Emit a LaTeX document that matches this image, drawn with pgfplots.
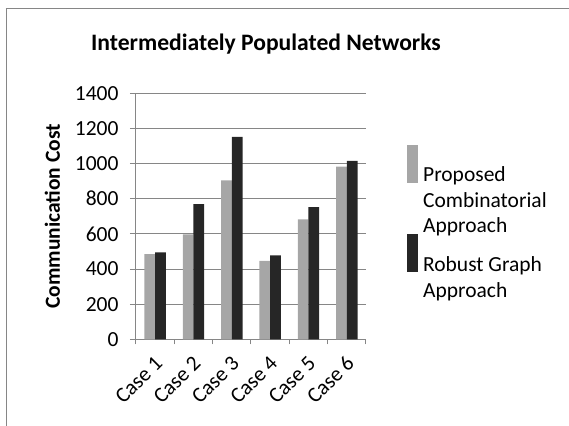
\documentclass[border=0pt]{standalone}
\usepackage{fontspec}
\setmainfont{Carlito}
\usepackage{pgfplots}
\pgfplotsset{compat=1.18}

\definecolor{propgray}{HTML}{A6A6A6}
\definecolor{robustdark}{HTML}{262626}
\definecolor{gridgray}{HTML}{868686}

\pgfplotstableread{
idx proposed robust
0   485  495
1   597  770
2   905  1152
3   447  477
4   682  752
5   982  1015
}\costdata

\newcommand{\bodyfont}{\fontsize{21.5bp}{26bp}\selectfont}
% legend line strut: 26bp from one baseline to the next
\newcommand{\lline}{\rule{0pt}{24bp}}

\begin{document}
\begin{tikzpicture}
% chart frame (the axis box has its lower left corner at the origin)
\draw[gridgray, line width=1.2bp] (-129.5bp,-90bp) -- (-129.5bp,330.8bp);
\draw[gridgray, line width=1.2bp] (-130.1bp,330.8bp) -- (440bp,330.8bp);
\begin{axis}[
  at={(0,0)}, anchor=south west,
  scale only axis, width=230bp, height=246bp,
  ymin=0, ymax=1400, ytick={0,200,...,1400},
  xmin=-0.5, xmax=5.5,
  xtick={0,...,5},
  xticklabels={Case 1,Case 2,Case 3,Case 4,Case 5,Case 6},
  minor xtick={-0.5,0.5,...,5.5},
  axis x line*=bottom, axis y line*=left,
  axis line style={gridgray, line width=1bp},
  every outer x axis line/.append style={-},
  every outer y axis line/.append style={-},
  ymajorgrids, grid style={gridgray, line width=1bp},
  major tick style={gridgray, line width=1bp},
  minor tick style={gridgray, line width=1bp},
  tick align=outside,
  major tick length=6bp, minor tick length=5bp,
  xtick style={/pgfplots/major tick length=0pt},
  /pgf/number format/assume math mode=true,
  /pgf/number format/1000 sep={},
  tick label style={font=\bodyfont},
  every tick label/.append style={font=\bodyfont},
  yticklabel style={font=\bodyfont, xshift=-8bp},
  xticklabel style={font=\bodyfont, xshift=6bp, yshift=-12bp, rotate=45, anchor=east},
  ylabel={Communication Cost},
  ylabel style={font=\bodyfont\bfseries, yshift=8bp},
  ybar=0pt, bar width=10.7bp,
  legend style={draw=none, fill=none, at={(1.178,0.792)}, anchor=north west,
    inner sep=0pt, row sep=0pt, font=\bodyfont,
    nodes={inner sep=0pt}},
  legend cell align=left,
  % the empty box sets the cell size; the square is drawn lower inside it
  legend image code/.code={\path (0bp,-1bp) rectangle (11bp,26bp);
    \fill[#1, overlay] (0bp,-12bp) rectangle (11bp,0bp);},
]
\addplot[fill=propgray, draw=none] table[x=idx, y=proposed] {\costdata};
\addlegendentry{\lline\hspace{5bp}Proposed}
\addlegendimage{empty legend}
\addlegendentry{\lline\hspace{5bp}Combinatorial}
\addlegendimage{empty legend}
\addlegendentry{\lline\hspace{5bp}Approach}
\addplot[fill=robustdark, draw=none] table[x=idx, y=robust] {\costdata};
\addlegendentry{\lline\hspace{5bp}Robust Graph}
\addlegendimage{empty legend}
\addlegendentry{\lline\hspace{5bp}Approach}
\end{axis}
% chart title
\node[anchor=base, font=\fontsize{23.6bp}{28bp}\selectfont\bfseries] at (130bp,288.3bp)
  {Intermediately Populated Networks};
% page extent: the axis box sits 136bp from the left and 86.7bp above the bottom
\pgfresetboundingbox
\path[use as bounding box] (-136bp,-86.7bp) rectangle (433bp,339.3bp);
\end{tikzpicture}
\end{document}
